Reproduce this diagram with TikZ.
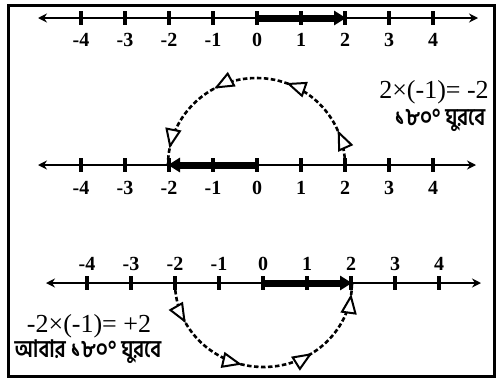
\documentclass[tikz,border=0pt]{standalone}
\usepackage{fontspec}
\setmainfont{Liberation Serif}
\newfontfamily\bn[Script=Bengali,FakeStretch=0.85]{Hind Siliguri}
\usetikzlibrary{arrows.meta,decorations.markings}
\begin{document}
\begin{tikzpicture}[x=1pt,y=1pt,
  numaxis/.style={line width=2.8pt, {Stealth[length=9pt,width=9pt]}-{Stealth[length=9pt,width=9pt]}},
  tickmark/.style={line width=3.2pt},
  thickseg/.style={line width=7pt, -{Triangle[length=12pt,width=14pt]}},
  numlab/.style={font=\fontsize{20}{20}\selectfont\bfseries, inner sep=0pt},
  eqlab/.style={font=\fontsize{26}{26}\selectfont, inner sep=0pt},
  bnlab/.style={font=\bn\fontsize{24}{26}\selectfont\bfseries, inner sep=0pt},
  turnpath/.style={line width=2.6pt, dash pattern=on 4.5pt off 2.5pt},
  otip/.style={solid,line width=2pt},
  turnmarks/.style n args={4}{postaction={decorate,decoration={markings,
    mark=at position #1 with {\arrow[otip]{Triangle[fill=white,length=20pt,width=16pt]}},
    mark=at position #2 with {\arrow[otip]{Triangle[fill=white,length=20pt,width=16pt]}},
    mark=at position #3 with {\arrow[otip]{Triangle[fill=white,length=20pt,width=16pt]}},
    mark=at position #4 with {\arrow[otip]{Triangle[fill=white,length=20pt,width=16pt]}}}}},
  frame/.style={line width=3pt}
]
\useasboundingbox (0,0) rectangle (497,-378);
\draw[frame] (8,-5) rectangle (494,-376.5);

% line 1
\coordinate (L1a) at (38,-18);
\coordinate (L1b) at (478,-18);
\draw[numaxis] (L1a) -- (L1b);
\foreach \k in {-4,...,4}{
  \draw[tickmark] (257+44*\k,-11) -- ++(0,-14);
  \node[numlab] (n1\k) at (257+44*\k,-40) {\k};
}
\coordinate (z1) at (257,-18);
\coordinate (p1) at (346,-18);
\draw[thickseg] (z1) -- (p1);

% line 2
\coordinate (L2a) at (38,-165);
\coordinate (L2b) at (476,-165);
\draw[numaxis] (L2a) -- (L2b);
\foreach \k in {-4,...,4}{
  \draw[tickmark] (257+44*\k,-158) -- ++(0,-14);
  \node[numlab] (n2\k) at (257+44*\k,-188) {\k};
}
\coordinate (z2) at (257,-165);
\coordinate (m2) at (168,-165);
\coordinate (p2) at (345,-165);
\draw[thickseg] (z2) -- (m2);
\draw[turnpath, turnmarks={0.13}{0.39}{0.66}{0.94}] (p2) arc[start angle=0,end angle=180,x radius=88.5pt,y radius=87pt];

% line 3
\coordinate (L3a) at (46,-283);
\coordinate (L3b) at (481,-283);
\draw[numaxis] (L3a) -- (L3b);
\foreach \k in {-4,...,4}{
  \draw[tickmark] (263+44*\k,-276) -- ++(0,-14);
  \node[numlab] (n3\k) at (263+44*\k,-264) {\k};
}
\coordinate (z3) at (263,-283);
\coordinate (p3) at (352,-283);
\coordinate (m3) at (175,-283);
\draw[thickseg] (z3) -- (p3);
\draw[turnpath, turnmarks={0.155}{0.42}{0.69}{0.96}] (m3) arc[start angle=180,end angle=360,x radius=88.5pt,y radius=84pt];

% texts
\node[eqlab] (eq1) at (434,-92) {2×(-1)= -2};
\node[bnlab] (bn1) at (440,-120) {১৮০° ঘুরবে};
\node[eqlab] (eq2) at (89,-326) {-2×(-1)= +2};
\node[bnlab] (bn2) at (88,-352) {আবার ১৮০° ঘুরবে};
\end{tikzpicture}
\end{document}
